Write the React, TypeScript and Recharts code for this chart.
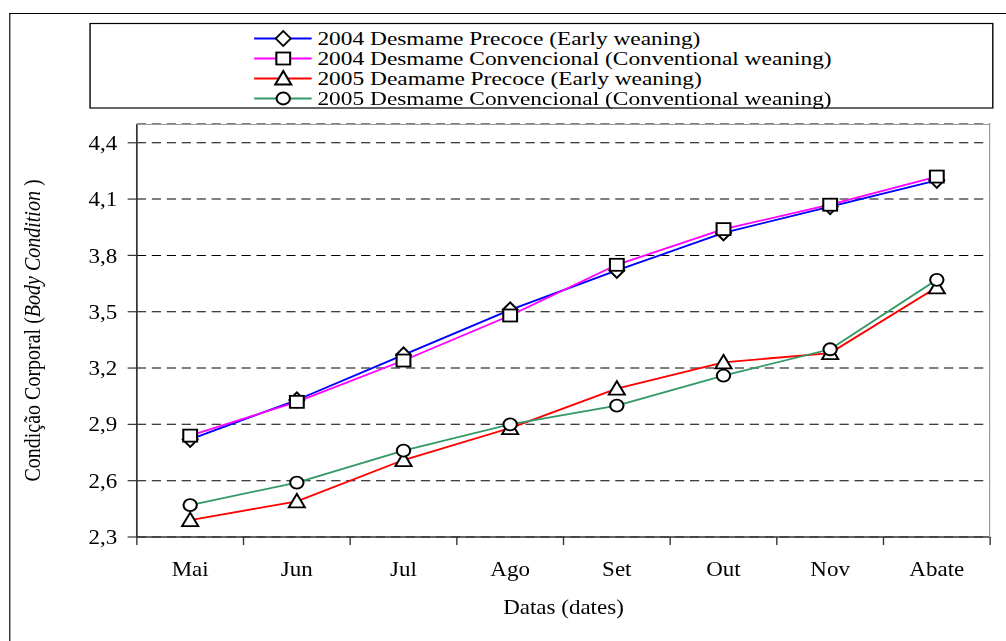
import React from "react";
import { LineChart, Line, XAxis, YAxis, CartesianGrid } from "recharts";

// values
const MONTHS = ["Mai", "Jun", "Jul", "Ago", "Set", "Out", "Nov", "Abate"];
const EARLY_2004 = [2.82, 3.03, 3.27, 3.51, 3.72, 3.92, 4.06, 4.2];
const CONV_2004 = [2.84, 3.02, 3.24, 3.48, 3.75, 3.94, 4.07, 4.22];
const EARLY_2005 = [2.39, 2.49, 2.71, 2.88, 3.09, 3.23, 3.28, 3.63];
const CONV_2005 = [2.47, 2.59, 2.76, 2.9, 3.0, 3.16, 3.3, 3.67];
const Y_TICKS = [2.3, 2.6, 2.9, 3.2, 3.5, 3.8, 4.1, 4.4];
const X_TICKS = [-0.5, 0, 0.5, 1, 1.5, 2, 2.5, 3, 3.5, 4, 4.5, 5, 5.5, 6, 6.5, 7, 7.5];

const SERIES = [
  { key: "e2004", name: "2004 Desmame Precoce (Early weaning)", color: "#0000ff", marker: "diamond" },
  { key: "c2004", name: "2004 Desmame Convencional (Conventional weaning)", color: "#ff00ff", marker: "square" },
  { key: "e2005", name: "2005 Deamame Precoce (Early weaning)", color: "#ff0000", marker: "triangle" },
  { key: "c2005", name: "2005 Desmame Convencional (Conventional weaning)", color: "#339966", marker: "circle" },
];

const data = MONTHS.map((m, i) => ({
  idx: i,
  month: m,
  e2004: EARLY_2004[i],
  c2004: CONV_2004[i],
  e2005: EARLY_2005[i],
  c2005: CONV_2005[i],
}));

// the reference is stretched horizontally, so the whole chart is drawn narrow and scaled
const STRETCH = 1.15;
const W = 875;
const H = 641;
const FONT = "Liberation Serif";

const Marker = ({ type, cx, cy }: { type: string; cx: number; cy: number }) => {
  const st = { fill: "#fff", stroke: "#000", strokeWidth: 1.8 };
  if (type === "diamond")
    return <path d={`M${cx},${cy - 7.5}L${cx + 6.5},${cy}L${cx},${cy + 7.5}L${cx - 6.5},${cy}Z`} {...st} />;
  if (type === "square") return <rect x={cx - 6} y={cy - 6} width={12} height={12} {...st} />;
  if (type === "triangle")
    return <path d={`M${cx},${cy - 7.5}L${cx + 7},${cy + 6}L${cx - 7},${cy + 6}Z`} {...st} />;
  return <ellipse cx={cx} cy={cy} rx={5.8} ry={6} {...st} />;
};

const MonthTick = (props: any) => {
  const { x, y, payload } = props;
  const v = payload.value;
  if (!Number.isInteger(v)) {
    return <line x1={x} x2={x} y1={y} y2={y + 8} stroke="#333" strokeWidth={1.2} />;
  }
  return (
    <text x={x} y={y + 32} dy="0.35em" textAnchor="middle" style={{ fontSize: 20, fontFamily: FONT }} fill="#000">
      {MONTHS[v]}
    </text>
  );
};

// legend rows: text a bit narrower font, widened to the reference's length
const LEGEND_ROWS = [38.5, 58.5, 78.5, 98.5];

const Legend4 = () => (
  <svg style={{ position: "absolute", left: 0, top: 0 }} width={W} height={120}>
    <rect x={78.3} y={23.5} width={785} height={84.5} fill="#fff" stroke="#000" strokeWidth={1.2} />
    {SERIES.map((s, i) => {
      const cy = LEGEND_ROWS[i];
      return (
        <g key={s.key}>
          <line x1={221} x2={271} y1={cy} y2={cy} stroke={s.color} strokeWidth={1.8} />
          <Marker type={s.marker} cx={246.3} cy={cy} />
          <text
            x={0}
            y={0}
            dy="0.35em"
            transform={`translate(276 ${cy}) scale(1.13 1)`}
            style={{ fontSize: 18, fontFamily: FONT }}
            fill="#000"
          >
            {s.name}
          </text>
        </g>
      );
    })}
  </svg>
);

export default function App() {
  return (
    <div
      style={{
        position: "absolute",
        left: 0,
        top: 0,
        width: 1006,
        height: 641,
        overflow: "hidden",
        background: "#fff",
        fontFamily: FONT,
      }}
    >
      <style>{`body{margin:0;overflow:hidden} svg text{font-family:"Liberation Serif",serif}`}</style>
      <div
        style={{
          position: "absolute",
          left: 0,
          top: 0,
          width: W,
          height: H,
          transform: `scaleX(${STRETCH})`,
          transformOrigin: "0 0",
        }}
      >
        {/* outer frame: only top and left edges fall inside the picture */}
        <div
          style={{
            position: "absolute",
            left: 7.8,
            top: 13,
            width: W - 7.8,
            height: H - 13,
            borderTop: "1.5px solid #000",
            borderLeft: "1.5px solid #000",
            boxSizing: "border-box",
          }}
        />
        <Legend4 />
        <div style={{ position: "absolute", left: 0, top: 0 }}>
          <LineChart width={W} height={H} data={data} margin={{ top: 124, right: 14, bottom: 44, left: 39 }}>
            <CartesianGrid horizontal vertical={false} stroke="#000" strokeDasharray="8 5" strokeWidth={1} />
            <XAxis
              dataKey="idx"
              type="number"
              domain={[-0.5, 7.5]}
              ticks={X_TICKS}
              interval={0}
              height={60}
              tickLine={false}
              tickSize={0}
              tickMargin={0}
              tick={<MonthTick />}
              axisLine={{ stroke: "#333", strokeWidth: 1.5 }}
              label={{
                content: (p: any) => {
                  const vb = p.viewBox || { x: 119, y: 537, width: 742 };
                  return (
                    <text
                      x={vb.x + vb.width / 2}
                      y={vb.y + 70}
                      dy="0.35em"
                      textAnchor="middle"
                      style={{ fontSize: 20, fontFamily: FONT }}
                      fill="#000"
                    >
                      Datas (dates)
                    </text>
                  );
                },
              }}
            />
            <YAxis
              type="number"
              domain={[2.3, 4.5]}
              ticks={Y_TICKS}
              interval={0}
              width={80}
              tickSize={8}
              tickMargin={9}
              tickFormatter={(v: number) => v.toFixed(1).replace(".", ",")}
              tick={{ fill: "#000", fontSize: 20, fontFamily: FONT }}
              tickLine={{ stroke: "#333", strokeWidth: 1.2 }}
              axisLine={{ stroke: "#333", strokeWidth: 1.5 }}
              label={{
                content: (p: any) => {
                  const vb = p.viewBox || { y: 124, height: 413 };
                  const cy = vb.y + vb.height / 2;
                  return (
                    <text
                      x={27.8}
                      y={cy}
                      dy="0.35em"
                      transform={`rotate(-90 27.8 ${cy})`}
                      textAnchor="middle"
                      style={{ fontSize: 20, fontFamily: FONT }}
                      fill="#000"
                    >
                      Condição Corporal (<tspan fontStyle="italic">Body Condition</tspan> )
                    </text>
                  );
                },
              }}
            />
            {SERIES.map((s) => (
              <Line
                key={s.key}
                dataKey={s.key}
                name={s.name}
                stroke={s.color}
                strokeWidth={1.8}
                isAnimationActive={false}
                dot={(p: any) => <Marker key={`${s.key}-${p.index}`} type={s.marker} cx={p.cx} cy={p.cy} />}
                activeDot={false}
              />
            ))}
          </LineChart>
        </div>
        {/* grey top/right edges of the plot area */}
        <div
          style={{
            position: "absolute",
            left: 119,
            top: 123.5,
            width: 861 - 119,
            height: 537 - 123.5,
            borderTop: "1.5px solid #999",
            borderRight: "1.5px solid #999",
            boxSizing: "border-box",
            pointerEvents: "none",
          }}
        />
      </div>
    </div>
  );
}
